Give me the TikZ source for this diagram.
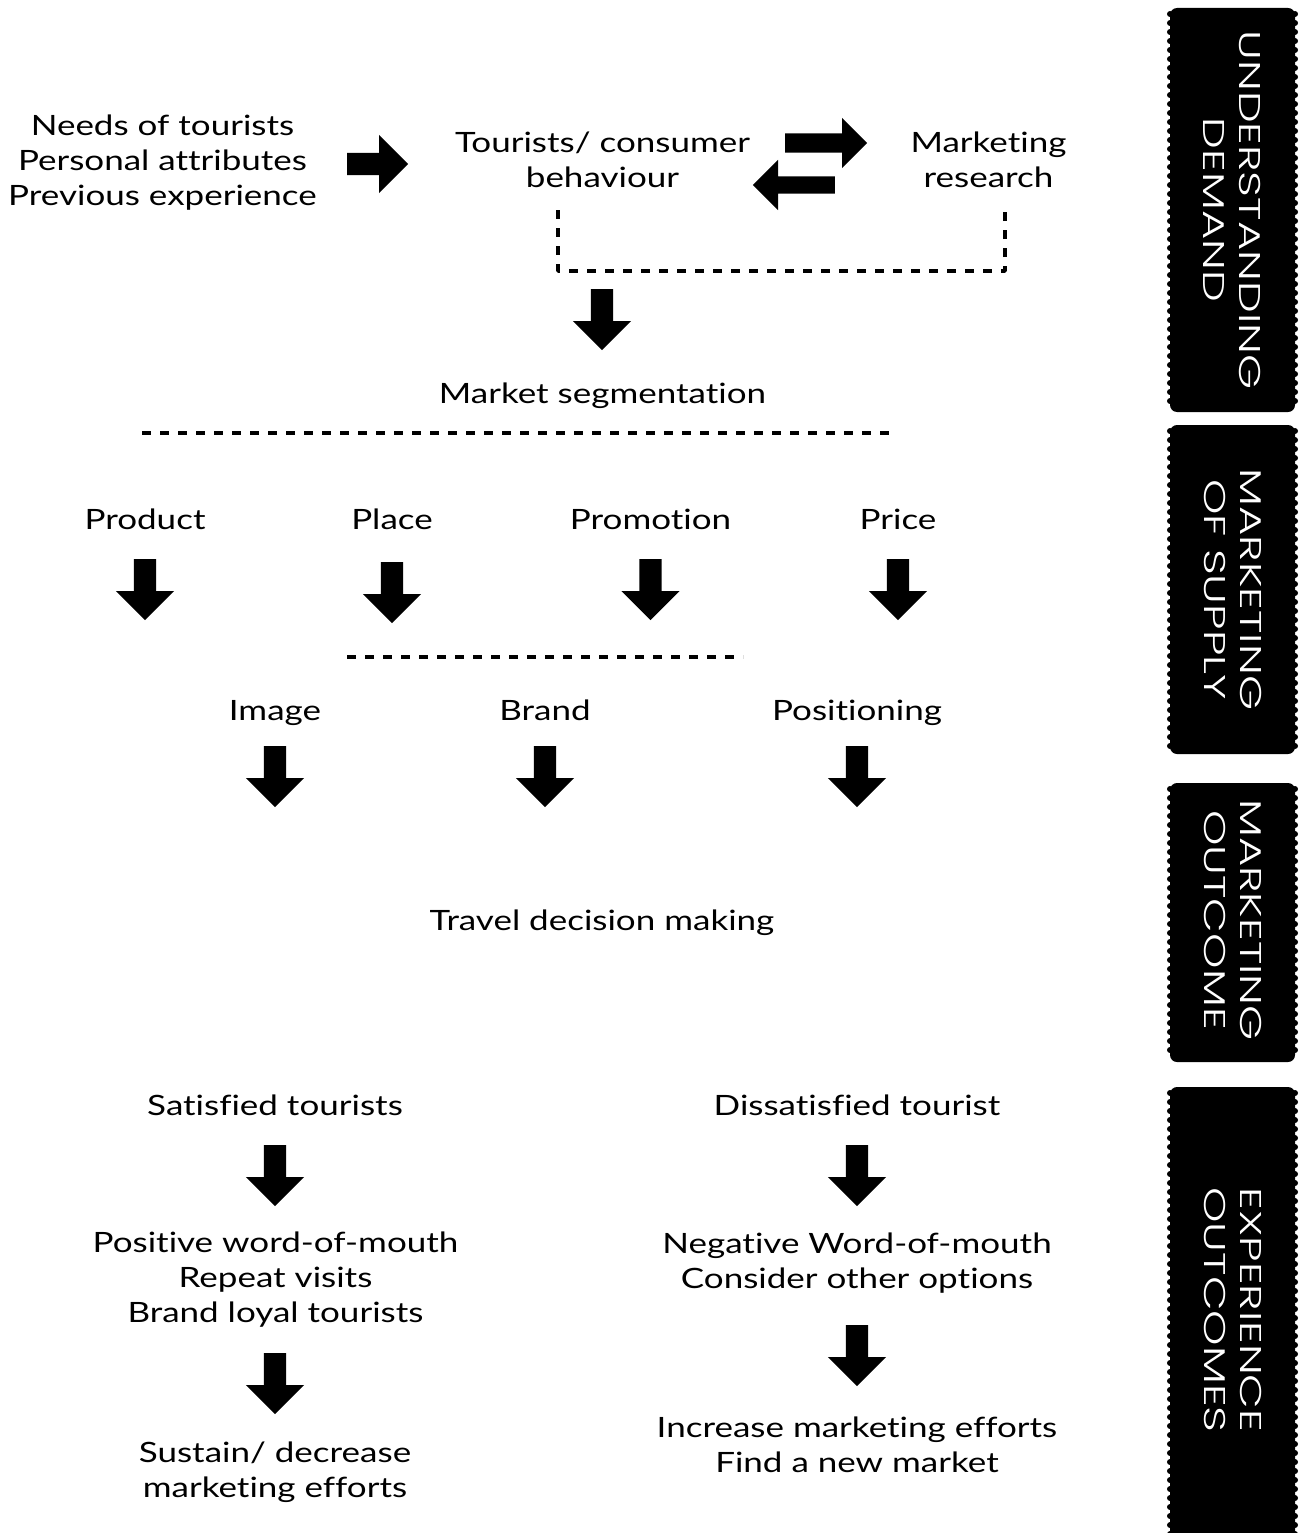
\documentclass[tikz,border=0pt]{standalone}
\usepackage{fontspec}
\setmainfont{Lato}[FakeStretch=1.25, Ligatures=NoCommon]
\newfontfamily\barfont{Poppins Light}[FakeStretch=1.5]
\usetikzlibrary{shapes.arrows}
\tikzset{
  txt/.style={align=center, inner sep=0pt},
  bigarrow/.style={single arrow, fill=black, anchor=tail, inner xsep=0pt, inner ysep=11pt, minimum height=61pt,
    single arrow head extend=18pt, single arrow head indent=0pt},
  downarrow/.style={bigarrow, rotate=-90},
  smallarrow/.style={single arrow, fill=black, anchor=tail, inner xsep=0pt, inner ysep=9.5pt, minimum height=82pt,
    single arrow head extend=15.5pt, single arrow head indent=0pt},
  dashline/.style={line width=3.5pt, dash pattern=on 9pt off 9pt, line cap=butt},
  bartxt/.style={text=white, rotate=-90, align=center, inner sep=0pt, font=\barfont\fontsize{30}{36}\selectfont}
}
\begin{document}
\begin{tikzpicture}[x=1pt, y=-1pt, font=\fontsize{28}{35}\selectfont, line join=round]
\useasboundingbox (0,0) rectangle (1302,1533);
\def\barl{1170}\def\barr{1295}
\begin{scope}
  \clip (0,0) rectangle (1302,1533);
  \foreach \ya/\yb/\yc/\lab in {8/412/210/{UNDERSTANDING\\DEMAND}, 425/754/589.5/{MARKETING\\OF SUPPLY},
      783/1062/920/{MARKETING\\OUTCOME}, 1087/1560/1310/{EXPERIENCE\\OUTCOMES}}{
    \fill[rounded corners=7pt] (\barl,\ya) rectangle (\barr,\yb);
    \pgfmathtruncatemacro\nb{(\yb-\ya-12)/9}
    \foreach \k in {0,...,\nb} \fill (\barl,\ya+6+9*\k) circle (3pt) (\barr,\ya+6+9*\k) circle (3pt);
    \node[bartxt] at (1232.5,\yc) {\lab};
  }
\end{scope}
\node[txt] (needs) at (162.5,162.3) {Needs of tourists\\Personal attributes\\Previous experience};
\node[txt] (tcb) at (602.5,160) {Tourists/ consumer\\behaviour};
\node[txt] (mres) at (988.5,160) {Marketing\\research};
\node[bigarrow] (arr-needs) at (347,164) {};
\node[smallarrow] (arr-mres) at (785,143) {};
\node[smallarrow, rotate=180, inner ysep=8.5pt, single arrow head extend=16.5pt] (arr-tcb) at (835,185) {};
\coordinate (brl) at (558,210);
\coordinate (brr) at (1005,210);
\draw[dashline] (brl) -- ++(0,61) -| (brr);
\node[downarrow] (arr-seg) at (602,289) {};
\node[anchor=base] (mseg) at (602.5,403) {Market segmentation};
\draw[dashline] (142,433) -- (890,433);
\foreach \nm/\lab/\xx/\yy in {prod/Product/145/559, place/Place/392/562, promo/Promotion/650.5/559, price/Price/898/559}{
  \node[anchor=base] (\nm) at (\xx,529) {\lab};
  \node[downarrow] (arr-\nm) at (\xx,\yy) {};
}
\draw[dashline] (347,657) -- (743,657);
\foreach \nm/\lab/\xx in {img/Image/275, brand/Brand/545, pos/Positioning/857}{
  \node[anchor=base] (\nm) at (\xx,720) {\lab};
  \node[downarrow] (arr-\nm) at (\xx,746) {};
}
\node[anchor=base] (tdm) at (602,930) {Travel decision making};
\node[anchor=base] (sat) at (275,1115) {Satisfied tourists};
\node[anchor=base] (dis) at (857,1115) {Dissatisfied tourist};
\node[downarrow] (arr-sat) at (275,1145) {};
\node[downarrow] (arr-dis) at (857,1145) {};
\node[txt] (pwom) at (275.5,1280) {Positive word-of-mouth\\Repeat visits\\Brand loyal tourists};
\node[txt] (nwom) at (857,1262.7) {Negative Word-of-mouth\\Consider other options};
\node[downarrow] (arr-pwom) at (275,1353) {};
\node[downarrow] (arr-nwom) at (857,1325) {};
\node[txt] (sust) at (275,1472.7) {Sustain/ decrease\\marketing efforts};
\node[txt] (incr) at (857,1445) {Increase marketing efforts\\Find a new market};
\end{tikzpicture}
\end{document}
